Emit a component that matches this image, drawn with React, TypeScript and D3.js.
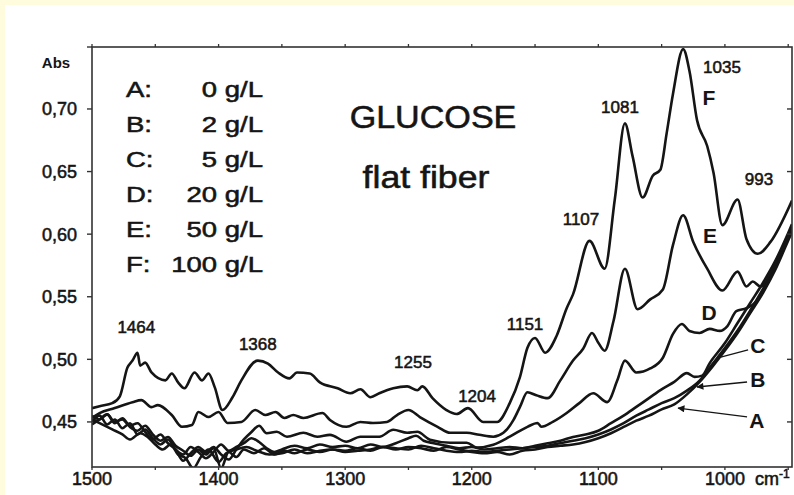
import React from 'react';
import * as d3 from 'd3';

const W = 794;
const H = 495;
const plot = { left: 92, right: 792, top: 47, bottom: 467 };

const xDomain: [number, number] = [1500, 947];
const yDomain: [number, number] = [0.414, 0.7495];
const xTicks = [1500, 1400, 1300, 1200, 1100, 1000];
const xMinorTicks = [1500, 1450, 1400, 1350, 1300, 1250, 1200, 1150, 1100, 1050, 1000, 950];
const yTicks = [0.45, 0.5, 0.55, 0.6, 0.65, 0.7];
const yTickLabels = ['0,45', '0,50', '0,55', '0,60', '0,65', '0,70'];

const seriesF: [number, number][] = [
  [1500, 0.461], [1494, 0.4626], [1484, 0.465], [1478, 0.4705], [1472, 0.4934], [1468, 0.499], [1464, 0.5053],
  [1462, 0.495], [1458, 0.4974], [1453, 0.4895], [1442, 0.4832], [1437, 0.4887], [1432, 0.4816], [1427, 0.4769],
  [1419, 0.4895], [1413, 0.4832], [1408, 0.4887], [1403, 0.4776], [1397, 0.4595], [1389, 0.4697], [1382, 0.4832],
  [1369, 0.499], [1361, 0.4966], [1353, 0.4895], [1344, 0.4848], [1338, 0.4895], [1328, 0.4887], [1320, 0.4816],
  [1306, 0.4769], [1296, 0.4729], [1288, 0.4761], [1280, 0.4697], [1273, 0.4729], [1262, 0.4769], [1251, 0.4784],
  [1243, 0.4753], [1239, 0.4784], [1231, 0.469], [1220, 0.4595], [1212, 0.4563], [1203, 0.461], [1191, 0.45],
  [1180, 0.45], [1170, 0.465], [1162, 0.4855], [1156, 0.5092], [1150, 0.5171], [1142, 0.5053], [1133, 0.5187],
  [1125, 0.5408], [1120, 0.5519], [1107, 0.5946], [1095, 0.5724], [1087, 0.6277], [1079, 0.6885], [1073, 0.6625],
  [1065, 0.6293], [1057, 0.6467], [1051, 0.6514], [1046, 0.6807], [1041, 0.7122], [1033, 0.7478], [1028, 0.7304],
  [1022, 0.6909], [1014, 0.6704], [1009, 0.6491], [1002, 0.6072], [990, 0.6277], [983, 0.5961], [974, 0.5843],
  [964, 0.5938], [947, 0.6269],
];

const seriesE: [number, number][] = [
  [1500, 0.4532], [1494, 0.4571], [1482, 0.4611], [1468, 0.4658], [1461, 0.4674], [1453, 0.4618], [1448, 0.4634],
  [1437, 0.4555], [1429, 0.4461], [1421, 0.4476], [1416, 0.4579], [1408, 0.4539], [1400, 0.4579], [1393, 0.4492],
  [1382, 0.45], [1371, 0.4595], [1363, 0.4555], [1355, 0.4579], [1348, 0.4532], [1341, 0.4555], [1333, 0.4532],
  [1318, 0.4571], [1312, 0.4516], [1299, 0.4461], [1288, 0.45], [1278, 0.4492], [1267, 0.45], [1259, 0.4555],
  [1250, 0.4595], [1241, 0.4539], [1227, 0.4461], [1217, 0.4413], [1204, 0.4413], [1194, 0.4397], [1183, 0.4382],
  [1175, 0.4413], [1167, 0.4516], [1162, 0.4618], [1156, 0.4737], [1149, 0.4713], [1140, 0.469], [1130, 0.4832],
  [1120, 0.499], [1112, 0.5085], [1105, 0.5211], [1100, 0.5132], [1095, 0.5069], [1088, 0.5306], [1079, 0.5724],
  [1069, 0.54], [1059, 0.5479], [1049, 0.5558], [1041, 0.5914], [1033, 0.6151], [1025, 0.5938], [1014, 0.5724],
  [1002, 0.555], [990, 0.5701], [983, 0.5582], [978, 0.5622], [972, 0.5582], [960, 0.5764], [947, 0.6048],
];

const seriesD: [number, number][] = [
  [1500, 0.455], [1494, 0.452], [1488, 0.456], [1482, 0.45], [1476, 0.452], [1470, 0.447], [1464, 0.449],
  [1458, 0.442], [1452, 0.436], [1446, 0.44], [1440, 0.433], [1434, 0.428], [1428, 0.419], [1422, 0.425],
  [1416, 0.43], [1410, 0.426], [1404, 0.43], [1398, 0.424], [1392, 0.42], [1386, 0.428], [1380, 0.436],
  [1374, 0.442], [1368, 0.447], [1362, 0.441], [1354, 0.4421], [1346, 0.4382], [1333, 0.4413], [1322, 0.4382],
  [1312, 0.4397], [1299, 0.4342], [1288, 0.4382], [1273, 0.4382], [1262, 0.4437], [1251, 0.4413], [1243, 0.4421],
  [1233, 0.4358], [1217, 0.4334], [1204, 0.4334], [1196, 0.4295], [1183, 0.4318], [1170, 0.4382], [1156, 0.4461],
  [1148, 0.4492], [1145, 0.4461], [1136, 0.45], [1125, 0.4571], [1115, 0.465], [1104, 0.4729], [1093, 0.4658],
  [1085, 0.4832], [1079, 0.499], [1070, 0.4895], [1059, 0.4927], [1049, 0.5013], [1041, 0.5203], [1034, 0.5282],
  [1028, 0.5227], [1020, 0.5211], [1012, 0.5243], [1004, 0.5227], [998, 0.5266], [991, 0.5385], [983, 0.5408],
  [975, 0.5464], [964, 0.5661], [947, 0.6056],
];

const seriesC: [number, number][] = [
  [1500, 0.45], [1494, 0.455], [1488, 0.448], [1482, 0.452], [1476, 0.445], [1470, 0.449], [1464, 0.44],
  [1458, 0.444], [1452, 0.437], [1446, 0.432], [1440, 0.436], [1434, 0.428], [1428, 0.424], [1422, 0.43],
  [1416, 0.426], [1410, 0.421], [1404, 0.426], [1398, 0.432], [1392, 0.427], [1386, 0.43], [1380, 0.433],
  [1374, 0.437], [1368, 0.434], [1362, 0.429], [1356, 0.426], [1350, 0.428], [1340, 0.431], [1330, 0.429],
  [1320, 0.432], [1310, 0.43], [1300, 0.431], [1290, 0.429], [1280, 0.432], [1270, 0.43], [1260, 0.433],
  [1250, 0.437], [1244, 0.439], [1238, 0.435], [1230, 0.433], [1220, 0.431], [1210, 0.429], [1200, 0.43],
  [1190, 0.428], [1180, 0.429], [1170, 0.43], [1160, 0.429], [1150, 0.431], [1140, 0.433], [1130, 0.435],
  [1120, 0.438], [1110, 0.44], [1100, 0.443], [1090, 0.449], [1080, 0.455], [1070, 0.462], [1060, 0.469],
  [1050, 0.476], [1040, 0.482], [1030, 0.489], [1024, 0.486], [1018, 0.487], [1012, 0.497], [1000, 0.513],
  [990, 0.529], [980, 0.545], [970, 0.561], [960, 0.579], [950, 0.601], [947, 0.608],
];

const seriesB: [number, number][] = [
  [1500, 0.448], [1494, 0.452], [1488, 0.456], [1482, 0.449], [1476, 0.453], [1470, 0.446], [1464, 0.443],
  [1458, 0.447], [1452, 0.44], [1446, 0.435], [1440, 0.438], [1434, 0.431], [1428, 0.427], [1422, 0.423],
  [1416, 0.428], [1410, 0.424], [1404, 0.429], [1398, 0.413], [1392, 0.426], [1386, 0.422], [1380, 0.428],
  [1372, 0.425], [1364, 0.429], [1356, 0.424], [1348, 0.427], [1340, 0.425], [1330, 0.428], [1320, 0.426],
  [1310, 0.428], [1300, 0.427], [1290, 0.429], [1280, 0.427], [1270, 0.43], [1260, 0.429], [1250, 0.428],
  [1240, 0.431], [1230, 0.429], [1220, 0.427], [1210, 0.426], [1200, 0.427], [1190, 0.426], [1180, 0.427],
  [1170, 0.428], [1160, 0.429], [1150, 0.43], [1140, 0.431], [1130, 0.433], [1120, 0.435], [1110, 0.437],
  [1100, 0.44], [1090, 0.444], [1080, 0.449], [1070, 0.455], [1060, 0.46], [1050, 0.465], [1040, 0.469],
  [1030, 0.475], [1020, 0.483], [1010, 0.496], [1000, 0.509], [990, 0.523], [980, 0.539], [970, 0.556],
  [960, 0.575], [950, 0.598], [947, 0.605],
];

const seriesA: [number, number][] = [
  [1500, 0.452], [1492, 0.448], [1484, 0.444], [1476, 0.44], [1470, 0.436], [1462, 0.441], [1456, 0.438],
  [1450, 0.432], [1444, 0.428], [1438, 0.432], [1432, 0.424], [1426, 0.421], [1420, 0.413], [1414, 0.422],
  [1408, 0.428], [1400, 0.418], [1394, 0.425], [1386, 0.428], [1378, 0.43], [1370, 0.427], [1360, 0.424],
  [1350, 0.425], [1340, 0.428], [1330, 0.425], [1320, 0.427], [1310, 0.428], [1300, 0.426], [1290, 0.427],
  [1280, 0.428], [1270, 0.43], [1260, 0.428], [1250, 0.43], [1240, 0.429], [1230, 0.427], [1220, 0.43],
  [1210, 0.428], [1200, 0.426], [1190, 0.425], [1180, 0.426], [1170, 0.424], [1160, 0.427], [1150, 0.428],
  [1140, 0.43], [1130, 0.431], [1120, 0.432], [1110, 0.434], [1100, 0.437], [1090, 0.441], [1080, 0.446],
  [1070, 0.451], [1060, 0.455], [1050, 0.46], [1040, 0.464], [1030, 0.472], [1020, 0.482], [1010, 0.494],
  [1000, 0.507], [990, 0.521], [980, 0.537], [970, 0.553], [960, 0.572], [950, 0.595], [947, 0.602],
];

const allSeries = [seriesA, seriesB, seriesC, seriesD, seriesE, seriesF];

const legendKeys = ['A:', 'B:', 'C:', 'D:', 'E:', 'F:'];
const legendValues = ['0 g/L', '2 g/L', '5 g/L', '20 g/L', '50 g/L', '100 g/L'];

const peakLabels = ['1464', '1368', '1255', '1204', '1151', '1107', '1081', '1035', '993'];
const peakLabelWn = [1465, 1369, 1246.4, 1195.8, 1157.9, 1113.7, 1082.9, 1002.3, 973.1];
const peakLabelAbs = [0.5213, 0.5075, 0.4931, 0.4659, 0.5234, 0.6073, 0.6968, 0.7288, 0.6393];

const curveLetters = ['F', 'E', 'D', 'C', 'B', 'A'];
const curveLetterWn = [1012.6, 1011.8, 1012.6, 973.9, 973.9, 974.7];
const curveLetterAbs = [0.7032, 0.593, 0.5314, 0.5051, 0.4779, 0.4452];

const pointerFrom: [number, number][] = [[981.7, 0.5075], [982.5, 0.4819], [982.5, 0.454]];
const pointerTo: [number, number][] = [[1005.5, 0.5011], [1022, 0.4779], [1037, 0.4611]];
const pointerHead = [false, true, true];

const FONT = "'Liberation Sans', Arial, Helvetica, sans-serif";
const INK = '#151515';

export default function App() {
  const x = d3.scaleLinear().domain(xDomain).range([plot.left, plot.right]);
  const y = d3.scaleLinear().domain(yDomain).range([plot.bottom, plot.top]);
  const line = d3
    .line<[number, number]>()
    .x((d) => x(d[0]))
    .y((d) => y(d[1]))
    .curve(d3.curveMonotoneX);

  const heavy = { stroke: INK, strokeWidth: 0.55 };

  return (
    <svg
      width={W}
      height={H}
      viewBox={`0 0 ${W} ${H}`}
      style={{ position: 'absolute', left: 0, top: 0, display: 'block' }}
      fontFamily={FONT}
    >
      <defs>
        <clipPath id="plotClip">
          <rect x={plot.left} y={plot.top} width={plot.right - plot.left} height={plot.bottom - plot.top} />
        </clipPath>
        <marker id="arrowHead" viewBox="0 0 10 10" refX="9" refY="5" markerWidth="10" markerHeight="7" orient="auto" markerUnits="userSpaceOnUse">
          <path d="M0,0 L10,5 L0,10 Z" fill={INK} />
        </marker>
      </defs>
      <rect x={0} y={0} width={W} height={H} fill="#fefcdc" />
      <rect x={5} y={5} width={W - 5} height={H - 5} fill="#ffffff" />

      <g clipPath="url(#plotClip)">
        {allSeries.map((s, i) => (
          <path key={i} d={line(s) || ''} fill="none" stroke={INK} strokeWidth={2.6} strokeLinejoin="round" />
        ))}
      </g>

      <rect
        x={plot.left}
        y={plot.top}
        width={plot.right - plot.left}
        height={plot.bottom - plot.top}
        fill="none"
        stroke="#333"
        strokeWidth={1.6}
      />

      {yTicks.map((t, i) => (
        <g key={'yt' + i}>
          <line x1={plot.left - 5} x2={plot.left} y1={y(t)} y2={y(t)} stroke="#333" strokeWidth={1.4} />
          <line x1={plot.right - 5} x2={plot.right} y1={y(t)} y2={y(t)} stroke="#333" strokeWidth={1.4} />
          <text x={77} y={y(t)} dy="0.36em" textAnchor="end" fontSize={18} fill={INK} {...heavy}>
            {yTickLabels[i]}
          </text>
        </g>
      ))}
      <line x1={plot.left - 5} x2={plot.left} y1={plot.top} y2={plot.top} stroke="#333" strokeWidth={1.4} />
      <text x={56} y={68} textAnchor="middle" fontSize={15} fontWeight="bold" fill={INK}>
        Abs
      </text>

      {xMinorTicks.map((t, i) => (
        <g key={'xm' + i}>
          <line x1={x(t)} x2={x(t)} y1={plot.bottom} y2={plot.bottom + 3} stroke="#333" strokeWidth={1.3} />
          <line x1={x(t)} x2={x(t)} y1={plot.top} y2={plot.top - 3} stroke="#333" strokeWidth={1.3} />
        </g>
      ))}
      {xTicks.map((t, i) => (
        <text key={'xt' + i} x={x(t)} y={485} textAnchor="middle" fontSize={18} fill={INK} {...heavy}>
          {t}
        </text>
      ))}
      <text x={755} y={485} fontSize={18} fill={INK} {...heavy}>
        cm
        <tspan dy={-7} fontSize={12}>-1</tspan>
      </text>

      {legendKeys.map((k, i) => (
        <g key={'lg' + i}>
          <text transform={`translate(126, ${97 + 35 * i}) scale(1.25, 1)`} fontSize={22} fill={INK} {...heavy}>
            {k}
          </text>
          <text transform={`translate(263, ${97 + 35 * i}) scale(1.25, 1)`} fontSize={22} textAnchor="end" fill={INK} {...heavy}>
            {legendValues[i]}
          </text>
        </g>
      ))}

      <text transform="translate(433, 128) scale(1.1, 1)" fontSize={31} textAnchor="middle" fill={INK} {...heavy}>
        GLUCOSE
      </text>
      <text transform="translate(426, 188) scale(1.15, 1)" fontSize={31} textAnchor="middle" fill={INK} {...heavy}>
        flat fiber
      </text>

      {peakLabels.map((p, i) => (
        <text key={'pk' + i} x={x(peakLabelWn[i])} y={y(peakLabelAbs[i])} textAnchor="middle" fontSize={17} fill={INK} {...heavy}>
          {p}
        </text>
      ))}

      {curveLetters.map((c, i) => (
        <text
          key={'cl' + i}
          x={x(curveLetterWn[i])}
          y={y(curveLetterAbs[i])}
          textAnchor="middle"
          fontSize={21}
          fontWeight="bold"
          fill={INK}
        >
          {c}
        </text>
      ))}

      {pointerFrom.map((f, i) => (
        <line
          key={'pt' + i}
          x1={x(f[0])}
          y1={y(f[1])}
          x2={x(pointerTo[i][0])}
          y2={y(pointerTo[i][1])}
          stroke={INK}
          strokeWidth={1.3}
          markerEnd={pointerHead[i] ? 'url(#arrowHead)' : undefined}
        />
      ))}
    </svg>
  );
}
